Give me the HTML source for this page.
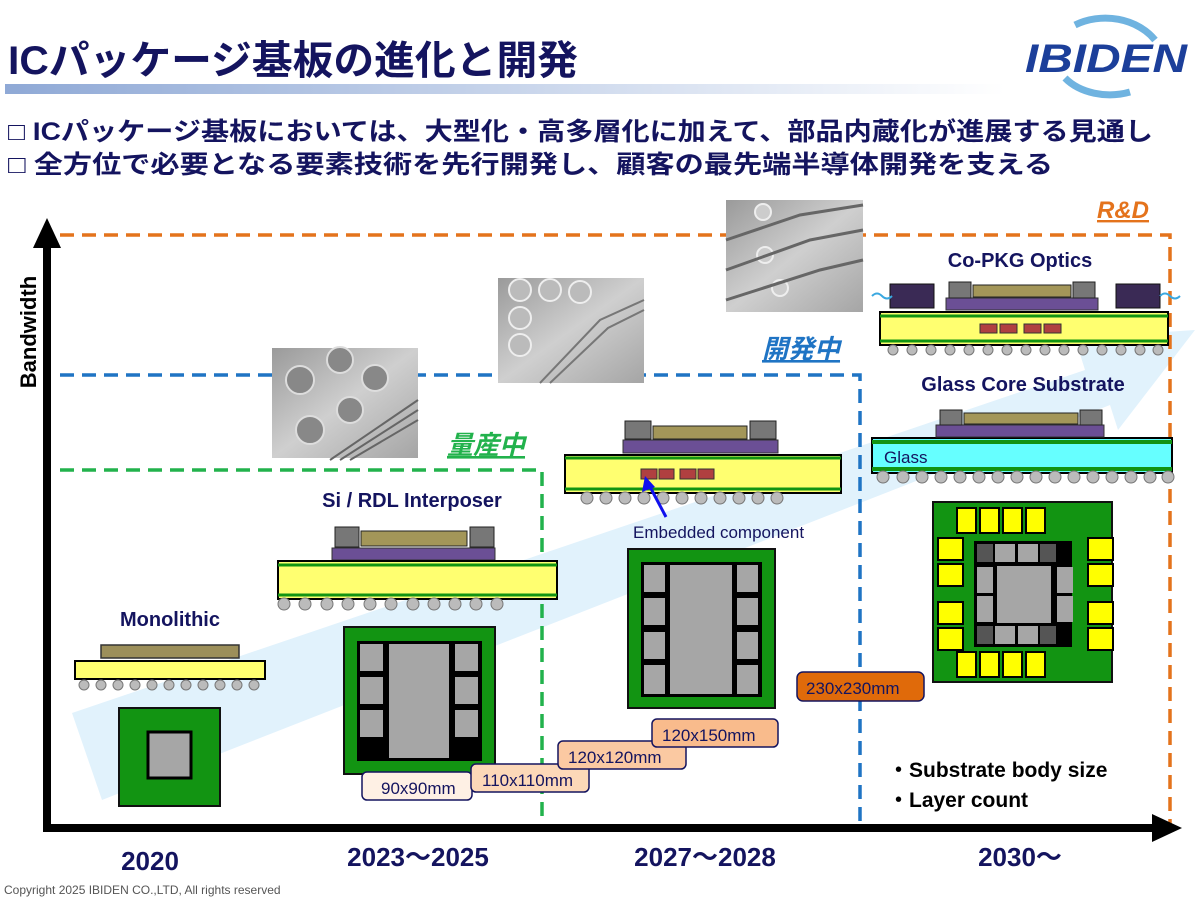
<!DOCTYPE html>
<html><head><meta charset="utf-8"><style>
body{margin:0;background:#fff;}
svg{display:block;font-family:"Liberation Sans","Noto Sans CJK JP",sans-serif;}
</style></head><body>
<svg width="1200" height="900" viewBox="0 0 1200 900" xmlns="http://www.w3.org/2000/svg">
<defs>
<linearGradient id="bar" x1="0" x2="1"><stop offset="0" stop-color="#8fa9d6"/><stop offset="1" stop-color="#ffffff"/></linearGradient>
<linearGradient id="sem" x1="0" y1="0" x2="1" y2="1"><stop offset="0" stop-color="#9a9a9a"/><stop offset="0.5" stop-color="#cfcfcf"/><stop offset="1" stop-color="#a5a5a5"/></linearGradient>
</defs>
<!-- title -->
<text x="8" y="74" font-size="40" font-weight="bold" fill="#14145f" font-family="Liberation Sans,Noto Sans CJK JP,sans-serif" textLength="570" lengthAdjust="spacingAndGlyphs">ICパッケージ基板の進化と開発</text>
<rect x="5" y="84" width="1000" height="10" fill="url(#bar)"/>
<!-- logo -->
<path d="M1075,25 A60,50 0 0 1 1155,40" stroke="#6fb3e0" stroke-width="7" fill="none"/>
<path d="M1065,78 A55,40 0 0 0 1130,92" stroke="#6fb3e0" stroke-width="7" fill="none"/>
<text x="1025" y="72" font-size="40" font-weight="bold" font-style="italic" fill="#1c3f9a" textLength="162" lengthAdjust="spacingAndGlyphs">IBIDEN</text>
<!-- bullets -->
<text x="8" y="140" font-size="25" font-weight="bold" fill="#14145f" textLength="1145" lengthAdjust="spacingAndGlyphs">□ ICパッケージ基板においては、大型化・高多層化に加えて、部品内蔵化が進展する見通し</text>
<text x="8" y="173" font-size="25" font-weight="bold" fill="#14145f" textLength="1045" lengthAdjust="spacingAndGlyphs">□ 全方位で必要となる要素技術を先行開発し、顧客の最先端半導体開発を支える</text>
<!-- big arrow band -->
<polygon points="72,713 1085,370 1075,338 1195,330 1118,430 1110,405 102,800" fill="#e1f2fc"/>
<!-- dashed lines -->
<path d="M60,235 H1170 V828" stroke="#e4731c" stroke-width="3.5" stroke-dasharray="14,8" fill="none"/>
<path d="M60,375 H860 V828" stroke="#1f74c4" stroke-width="3.5" stroke-dasharray="14,8" fill="none"/>
<path d="M60,470 H542 V828" stroke="#22b24c" stroke-width="3.5" stroke-dasharray="14,8" fill="none"/>
<text x="1097" y="218" font-size="24" font-weight="bold" font-style="italic" fill="#e4731c" text-decoration="underline">R&amp;D</text>
<text x="762" y="358" font-size="26" font-weight="bold" font-style="italic" fill="#1f74c4" text-decoration="underline">開発中</text>
<text x="447" y="454" font-size="26" font-weight="bold" font-style="italic" fill="#22b24c" text-decoration="underline">量産中</text>
<!-- axes -->
<line x1="47" y1="240" x2="47" y2="830" stroke="#000" stroke-width="8"/>
<polygon points="47,218 33,248 61,248" fill="#000"/>
<line x1="43" y1="828" x2="1160" y2="828" stroke="#000" stroke-width="8"/>
<polygon points="1182,828 1152,814 1152,842" fill="#000"/>
<text transform="translate(36,332) rotate(-90)" font-size="22" font-weight="bold" text-anchor="middle" fill="#000">Bandwidth</text>
<!-- years -->
<g font-size="26" font-weight="bold" fill="#14145f" text-anchor="middle">
<text x="150" y="870">2020</text><text x="418" y="866">2023～2025</text><text x="705" y="866">2027～2028</text><text x="1020" y="866">2030～</text>
</g>
<text x="4" y="894" font-size="12" fill="#555">Copyright 2025 IBIDEN CO.,LTD, All rights reserved</text>
<!-- SEM images -->
<g>
<rect x="272" y="348" width="146" height="110" fill="url(#sem)"/>
<g fill="#888" stroke="#ddd" stroke-width="2"><circle cx="300" cy="380" r="14"/><circle cx="340" cy="360" r="13"/><circle cx="375" cy="378" r="13"/><circle cx="310" cy="430" r="14"/><circle cx="350" cy="410" r="13"/></g>
<path d="M330,460 L418,400 M340,460 L418,410 M350,460 L418,420" stroke="#666" stroke-width="2"/>
<rect x="498" y="278" width="146" height="105" fill="url(#sem)"/>
<g fill="#bbb" stroke="#eee" stroke-width="2"><circle cx="520" cy="290" r="11"/><circle cx="550" cy="290" r="11"/><circle cx="580" cy="292" r="11"/><circle cx="520" cy="318" r="11"/><circle cx="520" cy="345" r="11"/></g>
<path d="M540,383 L600,320 L644,300 M550,383 L608,328 L644,310" stroke="#777" stroke-width="2" fill="none"/>
<rect x="726" y="200" width="137" height="112" fill="url(#sem)"/>
<g fill="#ccc" stroke="#eee" stroke-width="2"><circle cx="763" cy="212" r="8"/><circle cx="765" cy="255" r="8"/><circle cx="780" cy="288" r="8"/></g>
<path d="M726,240 L800,215 L863,205 M726,270 L810,240 L863,230 M726,300 L820,270 L863,260" stroke="#666" stroke-width="3" fill="none"/>
</g>
<!-- Monolithic -->
<text x="170" y="626" font-size="20" font-weight="bold" fill="#14145f" text-anchor="middle">Monolithic</text>
<rect x="101" y="645" width="138" height="13" fill="#9c8f5a" stroke="#333" stroke-width="1.5"/>
<rect x="75" y="661" width="190" height="18" fill="#ffff70" stroke="#000" stroke-width="2"/>
<g fill="#bbb" stroke="#777"><circle cx="84" cy="685" r="5"/><circle cx="101" cy="685" r="5"/><circle cx="118" cy="685" r="5"/><circle cx="135" cy="685" r="5"/><circle cx="152" cy="685" r="5"/><circle cx="169" cy="685" r="5"/><circle cx="186" cy="685" r="5"/><circle cx="203" cy="685" r="5"/><circle cx="220" cy="685" r="5"/><circle cx="237" cy="685" r="5"/><circle cx="254" cy="685" r="5"/></g>
<rect x="119" y="708" width="101" height="98" fill="#129412" stroke="#111" stroke-width="2"/>
<rect x="148" y="732" width="43" height="46" fill="#a6a6a6" stroke="#000" stroke-width="3"/>
<!-- Si/RDL -->
<text x="412" y="507" font-size="20" font-weight="bold" fill="#14145f" text-anchor="middle">Si / RDL Interposer</text>
<rect x="332" y="548" width="163" height="12" fill="#6b4f95" stroke="#333"/>
<rect x="335" y="527" width="24" height="20" fill="#777" stroke="#222"/><rect x="470" y="527" width="24" height="20" fill="#777" stroke="#222"/>
<rect x="361" y="531" width="106" height="15" fill="#a39659" stroke="#222"/>
<rect x="278" y="561" width="279" height="38" fill="#ffff70" stroke="#000" stroke-width="2"/>
<line x1="278" y1="565" x2="557" y2="565" stroke="#129412" stroke-width="3"/><line x1="278" y1="595" x2="557" y2="595" stroke="#129412" stroke-width="3"/>
<g fill="#bbb" stroke="#777"><circle cx="284" cy="604" r="6"/><circle cx="305" cy="604" r="6"/><circle cx="327" cy="604" r="6"/><circle cx="348" cy="604" r="6"/><circle cx="370" cy="604" r="6"/><circle cx="391" cy="604" r="6"/><circle cx="413" cy="604" r="6"/><circle cx="434" cy="604" r="6"/><circle cx="455" cy="604" r="6"/><circle cx="476" cy="604" r="6"/><circle cx="497" cy="604" r="6"/></g>
<rect x="344" y="627" width="151" height="147" fill="#129412" stroke="#111" stroke-width="2"/>
<rect x="357" y="641" width="125" height="120" fill="#000"/>
<g fill="#a6a6a6"><rect x="360" y="644" width="23" height="27"/><rect x="360" y="677" width="23" height="27"/><rect x="360" y="710" width="23" height="27"/><rect x="389" y="644" width="60" height="114"/><rect x="455" y="644" width="23" height="27"/><rect x="455" y="677" width="23" height="27"/><rect x="455" y="710" width="23" height="27"/></g>
<!-- Embedded -->
<rect x="623" y="440" width="155" height="13" fill="#6b4f95" stroke="#333"/>
<rect x="625" y="421" width="26" height="18" fill="#777" stroke="#222"/><rect x="750" y="421" width="26" height="18" fill="#777" stroke="#222"/>
<rect x="653" y="426" width="94" height="13" fill="#a39659" stroke="#222"/>
<rect x="565" y="455" width="276" height="38" fill="#ffff70" stroke="#000" stroke-width="2"/>
<line x1="565" y1="458" x2="841" y2="458" stroke="#129412" stroke-width="3"/><line x1="565" y1="489" x2="841" y2="489" stroke="#129412" stroke-width="3"/>
<g fill="#b04040" stroke="#333"><rect x="641" y="469" width="16" height="10"/><rect x="659" y="469" width="15" height="10"/><rect x="680" y="469" width="16" height="10"/><rect x="698" y="469" width="16" height="10"/></g>
<g fill="#bbb" stroke="#777"><circle cx="587" cy="498" r="6"/><circle cx="606" cy="498" r="6"/><circle cx="625" cy="498" r="6"/><circle cx="644" cy="498" r="6"/><circle cx="663" cy="498" r="6"/><circle cx="682" cy="498" r="6"/><circle cx="701" cy="498" r="6"/><circle cx="720" cy="498" r="6"/><circle cx="739" cy="498" r="6"/><circle cx="758" cy="498" r="6"/><circle cx="777" cy="498" r="6"/></g>
<line x1="666" y1="517" x2="648" y2="483" stroke="#1010ee" stroke-width="3"/><polygon points="645,476 642,492 655,487" fill="#1010ee"/>
<text x="633" y="538" font-size="17" fill="#14145f">Embedded component</text>
<rect x="628" y="549" width="147" height="159" fill="#129412" stroke="#111" stroke-width="2"/>
<rect x="641" y="562" width="121" height="135" fill="#000"/>
<g fill="#a6a6a6"><rect x="644" y="565" width="21" height="27"/><rect x="644" y="598" width="21" height="27"/><rect x="644" y="632" width="21" height="27"/><rect x="644" y="665" width="21" height="29"/><rect x="670" y="565" width="62" height="129"/><rect x="737" y="565" width="21" height="27"/><rect x="737" y="598" width="21" height="27"/><rect x="737" y="632" width="21" height="27"/><rect x="737" y="665" width="21" height="29"/></g>
<!-- Co-PKG -->
<text x="1020" y="267" font-size="20" font-weight="bold" fill="#14145f" text-anchor="middle">Co-PKG Optics</text>
<rect x="946" y="298" width="152" height="12" fill="#6b4f95" stroke="#333"/>
<rect x="949" y="282" width="22" height="16" fill="#777" stroke="#222"/><rect x="1073" y="282" width="22" height="16" fill="#777" stroke="#222"/>
<rect x="973" y="285" width="98" height="12" fill="#a39659" stroke="#222"/>
<rect x="890" y="284" width="44" height="24" fill="#3a2a55" stroke="#111"/><rect x="1116" y="284" width="44" height="24" fill="#3a2a55" stroke="#111"/>
<path d="M872,296 q5,-5 10,0 t10,0" stroke="#3aa8e0" stroke-width="2" fill="none"/><path d="M1160,296 q5,-5 10,0 t10,0" stroke="#3aa8e0" stroke-width="2" fill="none"/>
<rect x="880" y="312" width="288" height="33" fill="#ffff70" stroke="#000" stroke-width="2"/>
<line x1="880" y1="316" x2="1168" y2="316" stroke="#129412" stroke-width="3"/><line x1="880" y1="341" x2="1168" y2="341" stroke="#129412" stroke-width="3"/>
<g fill="#b04040" stroke="#333"><rect x="980" y="324" width="17" height="9"/><rect x="1000" y="324" width="17" height="9"/><rect x="1024" y="324" width="17" height="9"/><rect x="1044" y="324" width="17" height="9"/></g>
<g fill="#bbb" stroke="#777"><circle cx="893" cy="350" r="5"/><circle cx="912" cy="350" r="5"/><circle cx="931" cy="350" r="5"/><circle cx="950" cy="350" r="5"/><circle cx="969" cy="350" r="5"/><circle cx="988" cy="350" r="5"/><circle cx="1007" cy="350" r="5"/><circle cx="1026" cy="350" r="5"/><circle cx="1045" cy="350" r="5"/><circle cx="1064" cy="350" r="5"/><circle cx="1083" cy="350" r="5"/><circle cx="1102" cy="350" r="5"/><circle cx="1121" cy="350" r="5"/><circle cx="1140" cy="350" r="5"/><circle cx="1158" cy="350" r="5"/></g>
<!-- Glass -->
<text x="1023" y="391" font-size="20" font-weight="bold" fill="#14145f" text-anchor="middle">Glass Core Substrate</text>
<rect x="872" y="438" width="300" height="35" fill="#66ffff" stroke="#000" stroke-width="2"/>
<line x1="872" y1="442" x2="1172" y2="442" stroke="#129412" stroke-width="4"/><line x1="872" y1="469" x2="1172" y2="469" stroke="#129412" stroke-width="4"/>
<text x="884" y="463" font-size="17" fill="#14145f">Glass</text>
<rect x="872" y="437" width="300" height="1" fill="#000"/>
<rect x="873" y="438" width="0" height="0"/>
<rect x="875" y="440" width="0" height="0"/>
<g fill="#bbb" stroke="#777"><circle cx="826" cy="-1000" r="0"/><circle cx="883" cy="477" r="6"/><circle cx="903" cy="477" r="6"/><circle cx="922" cy="477" r="6"/><circle cx="941" cy="477" r="6"/><circle cx="960" cy="477" r="6"/><circle cx="979" cy="477" r="6"/><circle cx="998" cy="477" r="6"/><circle cx="1017" cy="477" r="6"/><circle cx="1036" cy="477" r="6"/><circle cx="1055" cy="477" r="6"/><circle cx="1074" cy="477" r="6"/><circle cx="1093" cy="477" r="6"/><circle cx="1112" cy="477" r="6"/><circle cx="1131" cy="477" r="6"/><circle cx="1150" cy="477" r="6"/><circle cx="1168" cy="477" r="6"/></g>
<rect x="871" y="437" width="1" height="1" fill="#000"/>
<rect x="872" y="437" width="0" height="0"/>
<g>
<rect x="871" y="437" width="0" height="0"/>
</g>
<rect x="871" y="437" width="0" height="0"/>
<rect x="871" y="437" width="0" height="0"/>
<rect x="871" y="437" width="0" height="0"/>
<rect x="871" y="437" width="0" height="0"/>
<rect x="872" y="437" width="0" height="0"/>
<rect x="870" y="437" width="0" height="0"/>
<rect x="936" y="425" width="168" height="12" fill="#6b4f95" stroke="#333"/>
<rect x="940" y="410" width="22" height="15" fill="#777" stroke="#222"/><rect x="1080" y="410" width="22" height="15" fill="#777" stroke="#222"/>
<rect x="964" y="413" width="114" height="11" fill="#a39659" stroke="#222"/>
<!-- big square -->
<rect x="933" y="502" width="179" height="180" fill="#129412" stroke="#111" stroke-width="2"/>
<g fill="#ffff00" stroke="#000" stroke-width="2"><rect x="957" y="508" width="19" height="25"/><rect x="980" y="508" width="19" height="25"/><rect x="1003" y="508" width="19" height="25"/><rect x="1026" y="508" width="19" height="25"/><rect x="957" y="652" width="19" height="25"/><rect x="980" y="652" width="19" height="25"/><rect x="1003" y="652" width="19" height="25"/><rect x="1026" y="652" width="19" height="25"/>
<rect x="938" y="538" width="25" height="22"/><rect x="938" y="564" width="25" height="22"/><rect x="938" y="602" width="25" height="22"/><rect x="938" y="628" width="25" height="22"/>
<rect x="1088" y="538" width="25" height="22"/><rect x="1088" y="564" width="25" height="22"/><rect x="1088" y="602" width="25" height="22"/><rect x="1088" y="628" width="25" height="22"/></g>
<rect x="900" y="0" width="0" height="0"/>
<rect x="900" y="0" width="0" height="0"/>
<rect x="900" y="0" width="0" height="0"/>
<rect x="900" y="0" width="0" height="0"/>
<rect x="900" y="0" width="0" height="0"/>
<rect x="900" y="0" width="0" height="0"/>
<rect x="900" y="0" width="0" height="0"/>
<rect x="974" y="541" width="98" height="106" fill="#000"/>
<g fill="#a6a6a6"><rect x="976" y="543" width="0" height="0"/><rect x="995" y="544" width="20" height="18"/><rect x="1018" y="544" width="20" height="18"/><rect x="995" y="626" width="20" height="18"/><rect x="1018" y="626" width="20" height="18"/><rect x="977" y="567" width="16" height="26"/><rect x="977" y="596" width="16" height="26"/><rect x="1057" y="567" width="16" height="26"/><rect x="1057" y="596" width="16" height="26"/><rect x="997" y="566" width="54" height="57"/></g>
<g fill="#555"><rect x="977" y="544" width="16" height="18"/><rect x="1040" y="544" width="16" height="18"/><rect x="977" y="626" width="16" height="18"/><rect x="1040" y="626" width="16" height="18"/></g>
<!-- size boxes -->
<g font-size="17" fill="#14145f" stroke="#14145f" stroke-width="1.5">
<rect x="362" y="772" width="110" height="28" rx="5" fill="#fef0e4"/>
<rect x="471" y="764" width="118" height="28" rx="5" fill="#fcd8b8"/>
<rect x="558" y="741" width="128" height="28" rx="5" fill="#fbc9a2"/>
<rect x="652" y="719" width="126" height="28" rx="5" fill="#f9bb8c"/>
<rect x="797" y="672" width="127" height="29" rx="6" fill="#e06a0a"/>
</g>
<g font-size="17" fill="#14145f">
<text x="381" y="794">90x90mm</text><text x="482" y="786">110x110mm</text><text x="568" y="763">120x120mm</text><text x="662" y="741">120x150mm</text><text x="806" y="694">230x230mm</text>
</g>
<text x="888" y="777" font-size="21" font-weight="bold" fill="#000">・Substrate body size</text>
<text x="888" y="807" font-size="21" font-weight="bold" fill="#000">・Layer count</text>
</svg>
</body></html>
